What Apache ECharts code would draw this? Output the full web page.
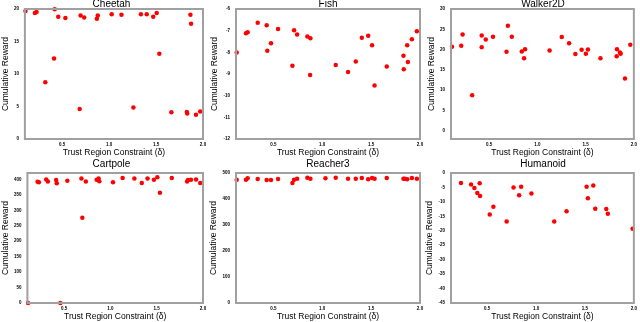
<!DOCTYPE html>
<html>
<head>
<meta charset="utf-8">
<script src="https://cdn.jsdelivr.net/npm/echarts@6/dist/echarts.min.js"></script>
<style>body{margin:0;background:#fff}#main{width:640px;height:322px}</style>
</head>
<body>
<div id="main"></div>
<script>
var titles=["Cheetah","Fish","Walker2D","Cartpole","Reacher3","Humanoid"];

// trust region constraint values (x) and rewards (y)
var cheetahX=[0.11,0.21,0.228,0.321,0.414,0.421,0.459,0.535,0.687,0.697,0.735,0.87,0.88,1.028,1.132,1.259,1.339,1.401,1.47,1.507,1.535,1.663,1.828,1.832,1.866,1.873,1.925,1.97];
var cheetahY=[19.7,19.4,19.55,8.75,12.4,19.95,18.8,18.6,4.6,19.0,18.7,18.5,19.0,19.2,19.1,4.86,19.2,19.2,18.8,19.4,13.1,4.1,4.15,3.94,19.1,17.75,3.73,4.25];

var fishX=[0.125,0.22,0.237,0.34,0.432,0.438,0.476,0.548,0.695,0.712,0.743,0.848,0.879,0.876,1.138,1.264,1.343,1.405,1.47,1.51,1.535,1.66,1.831,1.834,1.869,1.876,1.917,1.968];
var fishY=[-8.01,-7.12,-7.07,-6.63,-6.75,-7.93,-7.58,-6.92,-8.62,-6.98,-7.18,-7.27,-7.35,-9.05,-8.59,-8.91,-8.42,-7.33,-7.24,-7.67,-9.53,-8.65,-8.16,-8.78,-7.67,-8.45,-7.40,-7.03];

var walkerX=[0.116,0.212,0.226,0.325,0.424,0.424,0.466,0.541,0.681,0.695,0.736,0.839,0.863,0.873,1.127,1.253,1.329,1.394,1.459,1.503,1.524,1.654,1.822,1.825,1.856,1.863,1.908,1.963];
var walkerY=[20.7,20.95,23.75,8.8,23.5,20.6,22.5,23.2,19.5,25.9,23.2,19.55,17.9,20.1,19.8,23.1,21.6,18.9,19.97,19.0,20.05,17.9,18.4,20.1,19.3,19.0,12.9,21.2];

var cartpoleX=[0.111,0.214,0.228,0.307,0.325,0.414,0.421,0.459,0.535,0.687,0.697,0.735,0.852,0.873,0.88,1.028,1.132,1.259,1.339,1.401,1.47,1.507,1.535,1.663,1.828,1.838,1.87,1.925,1.97];
var cartpoleY=[0,392.5,391,400,393.5,398,388,0,396,403,276,393.5,399,403,394.6,391,405,403,389,403,399,407.5,357,405,393.5,398,399,400,389];

var reacherX=[0.125,0.22,0.237,0.34,0.432,0.476,0.548,0.695,0.712,0.743,0.848,0.879,1.033,1.138,1.264,1.343,1.405,1.47,1.51,1.535,1.66,1.831,1.845,1.869,1.917,1.968];
var reacherY=[474.5,474.5,479.6,477,473,473,477,462,474.5,478,482,478,479.6,482,478,478,481,476,481,478,481,478,478,476,481,478];

var humanoidX=[0.233,0.336,0.37,0.4,0.424,0.428,0.527,0.564,0.7,0.77,0.827,0.848,0.953,1.186,1.312,1.517,1.53,1.585,1.605,1.718,1.734,1.987];
var humanoidY=[-3.44,-4.0,-5.17,-6.9,-3.56,-8.0,-14.35,-11.7,-16.8,-5.05,-7.7,-4.8,-7.1,-16.8,-13.2,-4.8,-8.7,-4.36,-12.4,-12.5,-14.1,-19.3];

// tick labels
var xTicks=[0.5,1.0,1.5,2.0];
var cheetahTicks=[0,5,10,15,20];
var fishTicks=[-12,-11,-10,-9,-8,-7,-6];
var walkerTicks=[0,5,10,15,20,25,30];
var cartpoleTicks=[0,50,100,150,200,250,300,350,400];
var reacherTicks=[0,100,200,300,400,500];
var humanoidTicks=[-45,-40,-35,-30,-25,-20,-15,-10,-5,0];

var xs=[cheetahX,fishX,walkerX,cartpoleX,reacherX,humanoidX];
var ys=[cheetahY,fishY,walkerY,cartpoleY,reacherY,humanoidY];
var yTicks=[cheetahTicks,fishTicks,walkerTicks,cartpoleTicks,reacherTicks,humanoidTicks];

// axis extents per panel
var xMin=[0.104,0.118,0.106,0.104,0.118,0.131];
var yMin=[0,-12,-2,0,0,-45];
var yMax=[20,-6,30,421,500,0];

// layout
var lefts=[20,236,451];
var widths=[183,184,184];
var tops=[9,173];
var heights=[130,131];

var font='"Liberation Sans", Arial, sans-serif';
var myChart=echarts.init(document.getElementById('main'),null,{renderer:'canvas'});

var grids=[],xAxes=[],yAxes=[],series=[],titleList=[];
for(var i=0;i<6;i++){
	var col=i%3,row=Math.floor(i/3);
	// grey frame round each panel (drawn above the series or it gets lost)
	grids.push({left:lefts[col],top:tops[row],width:widths[col],height:heights[row],
		show:true,borderColor:'#a0a0a0',borderWidth:2,backgroundColor:'rgba(0,0,0,0)',z:10});
	titleList.push({text:titles[i],left:lefts[col]+widths[col]/2,top:row==0?-1:159,textAlign:'center',padding:0,
		textStyle:{fontSize:10,fontWeight:'normal',color:'#000',fontFamily:font}});
	xAxes.push({
		type:'value',gridIndex:i,min:xMin[i],max:2.0,
		name:'Trust Region Constraint (δ)',nameLocation:'middle',nameGap:9,
		nameTextStyle:{fontSize:8.5,color:'#000',fontFamily:font},
		axisLine:{show:false},axisTick:{show:false},splitLine:{show:false},
		axisLabel:{customValues:xTicks,margin:3,fontSize:4.5,fontWeight:'bold',color:'#000',fontFamily:font,
			formatter:function(v){return v.toFixed(1);}}
	});
	yAxes.push({
		type:'value',gridIndex:i,min:yMin[i],max:yMax[i],
		name:'Cumulative Reward',nameLocation:'middle',nameGap:5,
		nameTextStyle:{fontSize:8.5,color:'#000',fontFamily:font},
		axisLine:{show:false},axisTick:{show:false},splitLine:{show:false},
		axisLabel:{customValues:yTicks[i],margin:6,fontSize:4.5,fontWeight:'bold',color:'#000',fontFamily:font}
	});
	var pts=[];
	for(var j=0;j<xs[i].length;j++){pts.push([xs[i][j],ys[i][j]]);}
	series.push({type:'scatter',xAxisIndex:i,yAxisIndex:i,data:pts,symbolSize:4.5,
		itemStyle:{color:'#ff0000',opacity:1},silent:true});
}

option={
	animation:false,
	title:titleList,
	grid:grids,
	xAxis:xAxes,
	yAxis:yAxes,
	series:series
};
myChart.setOption(option);
</script>
</body>
</html>
